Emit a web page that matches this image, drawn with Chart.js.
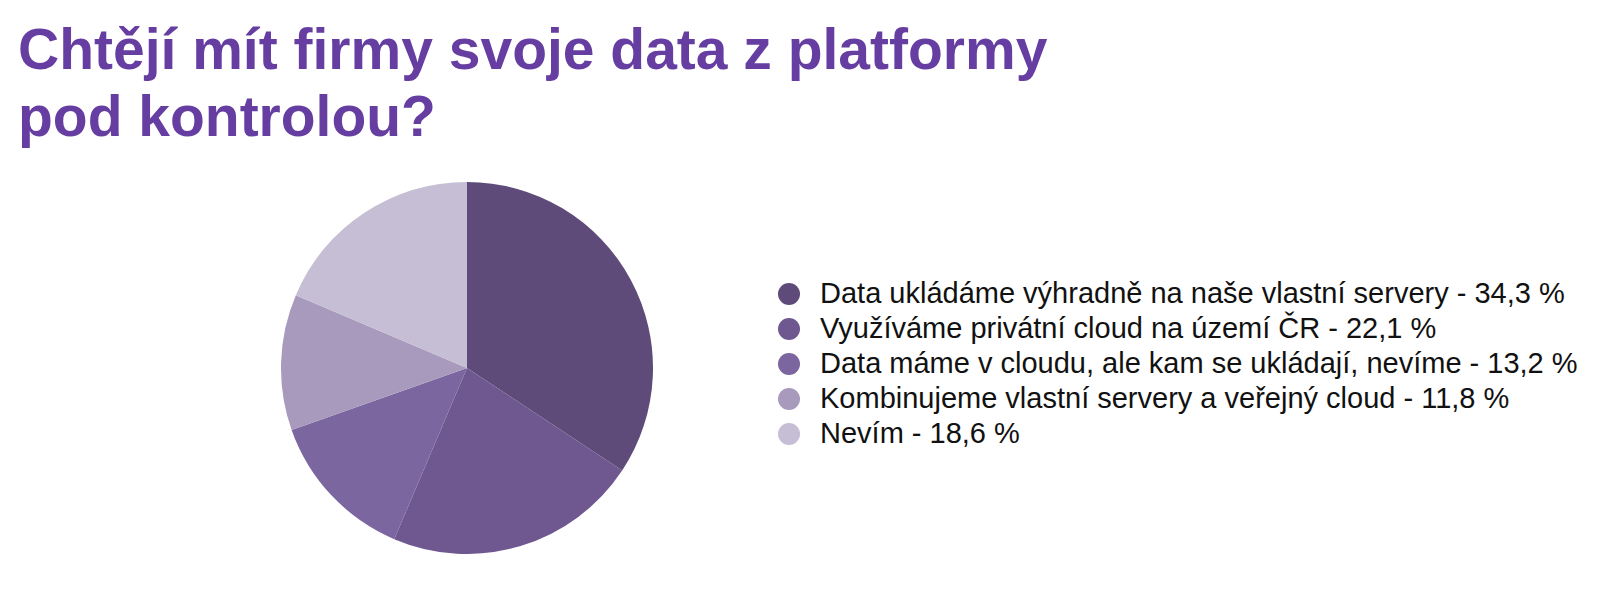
<!DOCTYPE html>
<html lang="cs">
<head>
<meta charset="utf-8">
<script src="https://cdn.jsdelivr.net/npm/chart.js@4"></script>
<style>
    body { margin: 0; width: 1600px; height: 596px; background: #ffffff; position: relative; overflow: hidden; font-family: "Liberation Sans", Arial, sans-serif; }
    #titulek { position: absolute; left: 18px; top: 16px; font-size: 57px; line-height: 67px; font-weight: bold; color: #663da1; }
    #graf { position: absolute; left: 281px; top: 182px; }
    #legenda { position: absolute; left: 778px; top: 276px; }
    .radek { display: flex; align-items: center; height: 35px; font-size: 29px; color: #111111; }
    .tecka { width: 22px; height: 22px; border-radius: 50%; margin-right: 20px; }
</style>
</head>
<body>
<div id="titulek">Chtějí mít firmy svoje data z platformy<br>pod kontrolou?</div>
<canvas id="graf" width="372" height="372"></canvas>
<div id="legenda"></div>
<script>
var kategorie = [
    "Data ukládáme výhradně na naše vlastní servery",
    "Využíváme privátní cloud na území ČR",
    "Data máme v cloudu, ale kam se ukládají, nevíme",
    "Kombinujeme vlastní servery a veřejný cloud",
    "Nevím"
];
var hodnoty = [34.3, 22.1, 13.2, 11.8, 18.6];
var barvy = ["#5e4b7a", "#6f5890", "#7b66a0", "#a89abd", "#c5bed4"];

function popisek(i) {
    return kategorie[i] + " - " + hodnoty[i].toFixed(1).replace(".", ",") + " %";
}

// legenda vedle grafu
var legenda = document.getElementById("legenda");
kategorie.forEach(function (k, i) {
    var radek = document.createElement("div");
    radek.className = "radek";
    var tecka = document.createElement("span");
    tecka.className = "tecka";
    tecka.style.background = barvy[i];
    var text = document.createElement("span");
    text.textContent = popisek(i);
    radek.appendChild(tecka);
    radek.appendChild(text);
    legenda.appendChild(radek);
});

var ctx = document.getElementById("graf").getContext("2d");
new Chart(ctx, {
    type: "pie",
    data: {
        labels: kategorie,
        datasets: [{
            data: hodnoty,
            backgroundColor: barvy,
            borderWidth: 0
        }]
    },
    options: {
        responsive: false,
        animation: false,
        plugins: {
            legend: { display: false },
            tooltip: { enabled: false }
        }
    }
});
</script>
</body>
</html>
